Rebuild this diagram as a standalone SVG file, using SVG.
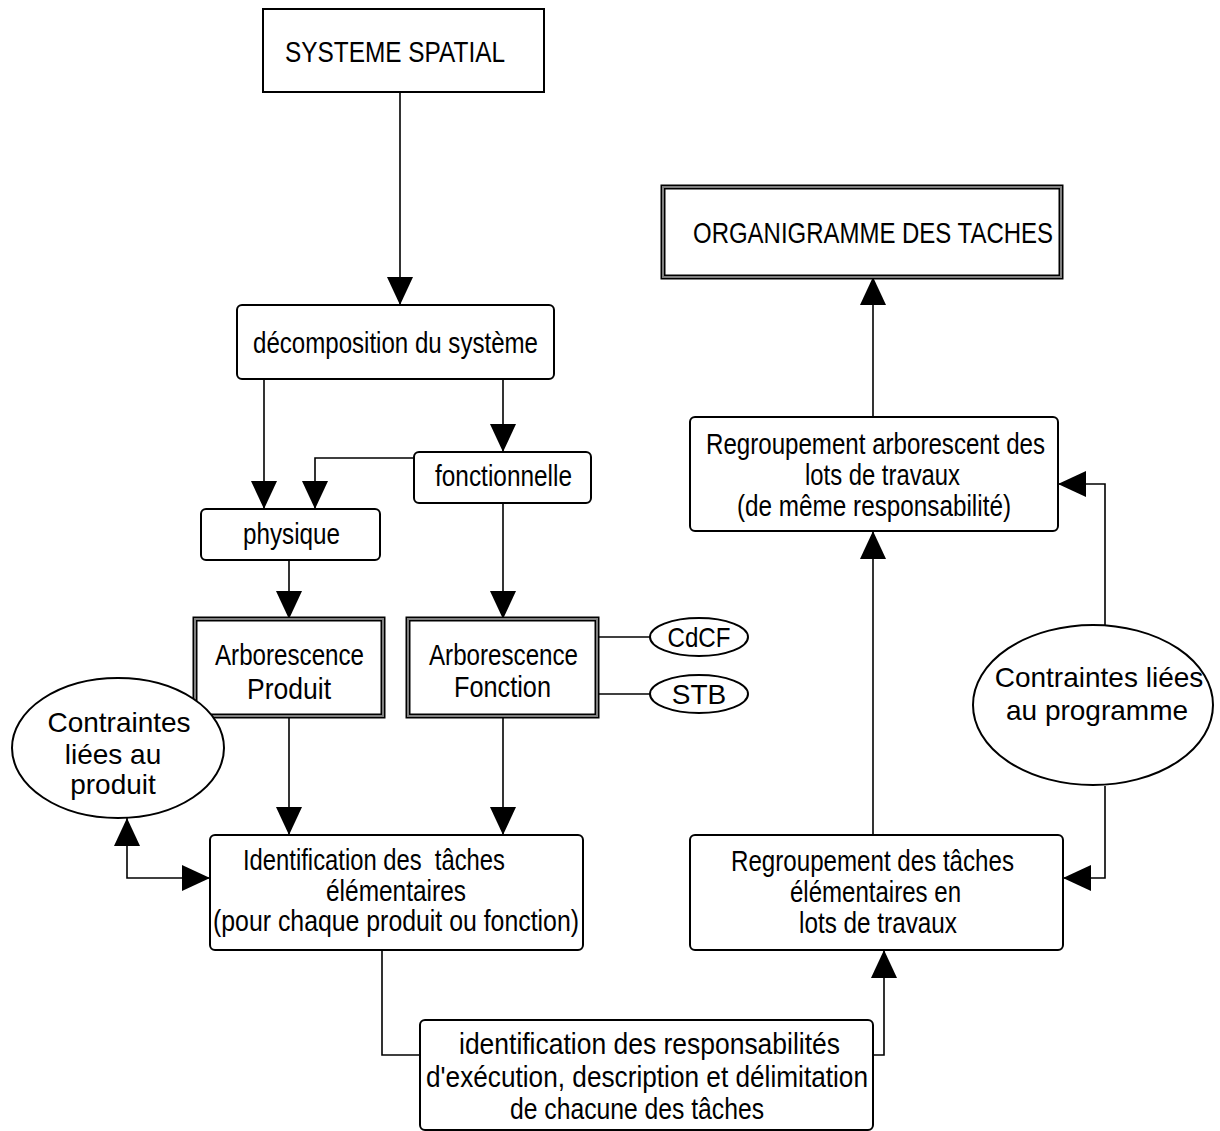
<svg xmlns="http://www.w3.org/2000/svg" width="1220" height="1131" viewBox="0 0 1220 1131">
  <defs>
    <marker id="arrow" viewBox="0 0 28 26" refX="28" refY="13" markerWidth="28" markerHeight="26" markerUnits="userSpaceOnUse" orient="auto">
      <path d="M0,0 L28,13 L0,26 z" fill="#000"/>
    </marker>
    <style>
      text { font-family: "Liberation Sans", Arial, sans-serif; font-size: 28px; fill: #000; }
      .c { text-anchor: middle; }
      .n { font-size: 29px; }
      .box { fill: #fff; stroke: #000; stroke-width: 2; }
      .dbl-out { fill: #fff; stroke: #000; stroke-width: 5; }
      .dbl-in { fill: none; stroke: #808080; stroke-width: 2; }
      .oval { fill: #fff; stroke: #000; stroke-width: 2; }
      .wire { fill: none; stroke: #000; stroke-width: 1.6; }
      .arr { marker-end: url(#arrow); }
    </style>
  </defs>
  <rect width="1220" height="1131" fill="#fff"/>

  <!-- connectors -->
  <g id="connectors">
    <path class="wire arr" d="M400,92 V305"/>
    <path class="wire arr" d="M264,379 V509"/>
    <path class="wire arr" d="M503,379 V452"/>
    <path class="wire arr" d="M414,458 H315 V509"/>
    <path class="wire arr" d="M289,560 V619"/>
    <path class="wire arr" d="M503,503 V619"/>
    <path class="wire" d="M595,637 H650"/>
    <path class="wire" d="M597,694 H650"/>
    <path class="wire arr" d="M289,716 V835"/>
    <path class="wire arr" d="M503,716 V835"/>
    <path class="wire arr" d="M170,878 H210"/>
    <path class="wire arr" d="M127,850 V818"/>
    <path class="wire" d="M127,850 V878 H170"/>
    <path class="wire" d="M382,950 V1055 H420"/>
    <path class="wire arr" d="M873,1055 H884 V950"/>
    <path class="wire arr" d="M873,835 V531"/>
    <path class="wire arr" d="M873,417 V277"/>
    <path class="wire arr" d="M1105,786 V878 H1063"/>
    <path class="wire arr" d="M1105,625 V484 H1058"/>
  </g>

  <g id="systeme-spatial">
    <rect class="box" x="263" y="9" width="281" height="83"/>
    <text class="n" x="285" y="62" textLength="220" lengthAdjust="spacingAndGlyphs">SYSTEME SPATIAL</text>
  </g>

  <g id="organigramme">
    <rect class="dbl-out" x="663" y="187" width="398" height="90"/>
    <rect class="dbl-in" x="663" y="187" width="398" height="90"/>
    <text class="n" x="693" y="243" textLength="360" lengthAdjust="spacingAndGlyphs">ORGANIGRAMME DES TACHES</text>
  </g>

  <g id="decomposition">
    <rect class="box" x="237" y="305" width="317" height="74" rx="5"/>
    <text class="n" x="253" y="353" textLength="285" lengthAdjust="spacingAndGlyphs">décomposition du système</text>
  </g>

  <g id="fonctionnelle">
    <rect class="box" x="414" y="452" width="177" height="51" rx="5"/>
    <text class="n" x="435" y="486" textLength="137" lengthAdjust="spacingAndGlyphs">fonctionnelle</text>
  </g>

  <g id="physique">
    <rect class="box" x="201" y="509" width="179" height="51" rx="5"/>
    <text class="n" x="243" y="544" textLength="97" lengthAdjust="spacingAndGlyphs">physique</text>
  </g>

  <g id="arbo-produit">
    <rect class="dbl-out" x="195" y="619" width="188" height="97"/>
    <rect class="dbl-in" x="195" y="619" width="188" height="97"/>
    <text class="n" x="215" y="665" textLength="149" lengthAdjust="spacingAndGlyphs">Arborescence</text>
    <text class="n" x="247" y="699" textLength="84" lengthAdjust="spacingAndGlyphs">Produit</text>
  </g>

  <g id="arbo-fonction">
    <rect class="dbl-out" x="408" y="619" width="189" height="97"/>
    <rect class="dbl-in" x="408" y="619" width="189" height="97"/>
    <text class="n" x="429" y="665" textLength="149" lengthAdjust="spacingAndGlyphs">Arborescence</text>
    <text class="n" x="454" y="697" textLength="97" lengthAdjust="spacingAndGlyphs">Fonction</text>
  </g>

  <g id="cdcf">
    <ellipse class="oval" cx="699" cy="637" rx="49" ry="19"/>
    <text class="c" x="699" y="647" textLength="63" lengthAdjust="spacingAndGlyphs">CdCF</text>
  </g>

  <g id="stb">
    <ellipse class="oval" cx="699" cy="694" rx="49" ry="19"/>
    <text class="c" x="699" y="704">STB</text>
  </g>

  <g id="contraintes-produit">
    <ellipse class="oval" cx="118" cy="748" rx="106" ry="70"/>
    <text class="c" x="119" y="732">Contraintes</text>
    <text class="c" x="113" y="764">liées au</text>
    <text class="c" x="113" y="794">produit</text>
  </g>

  <g id="identification-taches">
    <rect class="box" x="210" y="835" width="373" height="115" rx="5"/>
    <text class="n" x="243" y="870" textLength="262" lengthAdjust="spacingAndGlyphs">Identification des &#160;tâches</text>
    <text class="n" x="326" y="901" textLength="140" lengthAdjust="spacingAndGlyphs">élémentaires</text>
    <text class="n" x="213" y="931" textLength="366" lengthAdjust="spacingAndGlyphs">(pour chaque produit ou fonction)</text>
  </g>

  <g id="identification-responsabilites">
    <rect class="box" x="420" y="1020" width="453" height="110" rx="5"/>
    <text class="n" x="459" y="1054" textLength="381" lengthAdjust="spacingAndGlyphs">identification des responsabilités</text>
    <text class="n" x="426" y="1087" textLength="442" lengthAdjust="spacingAndGlyphs">d'exécution, description et délimitation</text>
    <text class="n" x="510" y="1119" textLength="254" lengthAdjust="spacingAndGlyphs">de chacune des tâches</text>
  </g>

  <g id="regroupement-taches">
    <rect class="box" x="690" y="835" width="373" height="115" rx="5"/>
    <text class="n" x="731" y="871" textLength="283" lengthAdjust="spacingAndGlyphs">Regroupement des tâches</text>
    <text class="n" x="790" y="902" textLength="171" lengthAdjust="spacingAndGlyphs">élémentaires en</text>
    <text class="n" x="799" y="933" textLength="158" lengthAdjust="spacingAndGlyphs">lots de travaux</text>
  </g>

  <g id="regroupement-arborescent">
    <rect class="box" x="690" y="417" width="368" height="114" rx="5"/>
    <text class="n" x="706" y="454" textLength="339" lengthAdjust="spacingAndGlyphs">Regroupement arborescent des</text>
    <text class="n" x="805" y="485" textLength="155" lengthAdjust="spacingAndGlyphs">lots de travaux</text>
    <text class="n" x="737" y="516" textLength="274" lengthAdjust="spacingAndGlyphs">(de même responsabilité)</text>
  </g>

  <g id="contraintes-programme">
    <ellipse class="oval" cx="1093" cy="705" rx="120" ry="80"/>
    <text class="c" x="1099" y="687">Contraintes liées</text>
    <text class="c" x="1097" y="720">au programme</text>
  </g>
</svg>
